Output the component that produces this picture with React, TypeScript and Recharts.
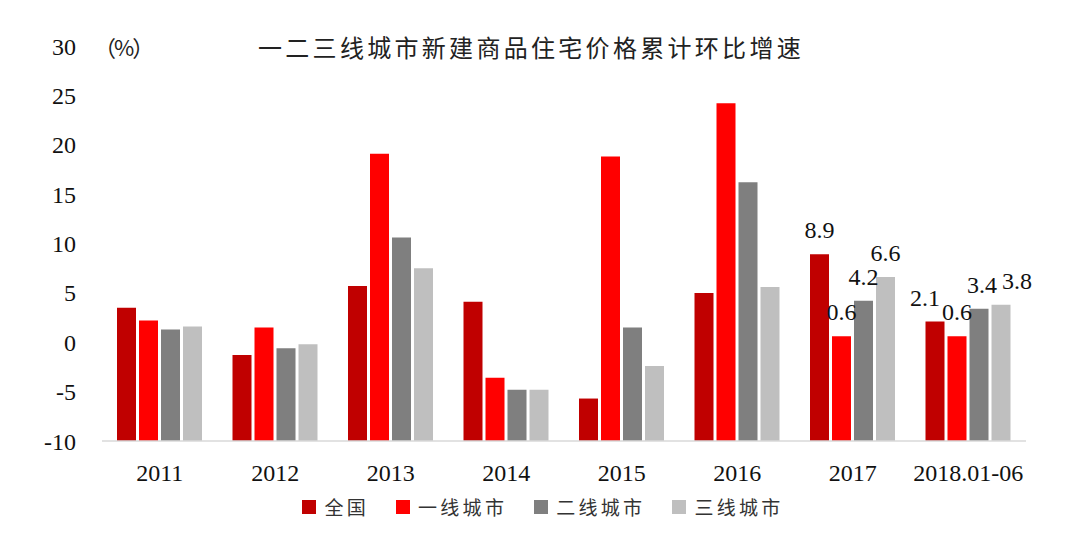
import React from 'react';
import { BarChart, Bar, XAxis, YAxis, Legend, LabelList } from 'recharts';

const categories = ['2011', '2012', '2013', '2014', '2015', '2016', '2017', '2018.01-06'];
const national = [3.5, -1.3, 5.7, 4.1, -5.7, 5.0, 8.9, 2.1];
const tier1 = [2.2, 1.5, 19.1, -3.6, 18.8, 24.2, 0.6, 0.6];
const tier2 = [1.3, -0.6, 10.6, -4.8, 1.5, 16.2, 4.2, 3.4];
const tier3 = [1.6, -0.2, 7.5, -4.8, -2.4, 5.6, 6.6, 3.8];
const yTicks = [-10, -5, 0, 5, 10, 15, 20, 25, 30];
const labeledCategories = ['2017', '2018.01-06'];
const seriesNames = ['全国', '一线城市', '二线城市', '三线城市'];
const seriesKeys = ['national', 'tier1', 'tier2', 'tier3'];
const seriesValues = [national, tier1, tier2, tier3];
const colors = ['#C00000', '#FF0000', '#7F7F7F', '#BFBFBF'];
const title = '一二三线城市新建商品住宅价格累计环比增速';
const unitLabel = '（%）';

const Y_MIN = -10;
const SERIF = '"Liberation Serif", "DejaVu Serif", serif';
const CJK = '"Noto Sans CJK SC", "Noto Sans", sans-serif';

const data = categories.map((c, i) => ({
  category: c,
  national: national[i],
  tier1: tier1[i],
  tier2: tier2[i],
  tier3: tier3[i],
}));

// horizontal nudges (style only) to keep neighbouring labels apart, as in the reference
const labelNudge = (series: number, category: string) => {
  if (category === '2018.01-06' && series === 0) return -10;
  if (category === '2018.01-06' && series === 3) return 16;
  if (category === '2018.01-06' && series === 2) return 3;
  return 0;
};

const makeLabel = (seriesIdx: number) => (props: any) => {
  const vb = props.viewBox || props;
  const { x, y, width } = vb;
  const index = props.index;
  if (index == null || !labeledCategories.includes(categories[index])) return null;
  const values = seriesValues[seriesIdx];
  return (
    <text
      x={x + width / 2 + labelNudge(seriesIdx, categories[index])}
      y={y - 16}
      textAnchor="middle"
      fontFamily={SERIF}
      fontSize={24}
      fill="#111"
    >
      {values[index].toFixed(1)}
    </text>
  );
};

const renderLegend = () => (
  <div
    style={{
      display: 'flex',
      justifyContent: 'center',
      alignItems: 'center',
      fontFamily: CJK,
      fontSize: 19,
      color: '#333',
      paddingLeft: 6,
    }}
  >
    {seriesNames.map((n, i) => (
      <div
        key={n}
        style={{ display: 'flex', alignItems: 'center', marginRight: i < seriesNames.length - 1 ? 27 : 0 }}
      >
        <span style={{ display: 'inline-block', width: 14, height: 14, background: colors[i], marginRight: 8 }} />
        <span style={{ letterSpacing: 3.3, lineHeight: '24px' }}>{n}</span>
      </div>
    ))}
  </div>
);

export default function App() {
  return (
    <div style={{ position: 'absolute', left: 0, top: 0, width: 1080, height: 535, background: '#fff' }}>
      <div
        style={{
          position: 'absolute',
          left: 258,
          top: 32,
          fontFamily: CJK,
          fontSize: 24,
          lineHeight: '30px',
          letterSpacing: 3.3,
          color: '#222',
          whiteSpace: 'nowrap',
        }}
      >
        {title}
      </div>
      <div
        style={{
          position: 'absolute',
          left: 94,
          top: 33,
          fontFamily: CJK,
          fontSize: 22,
          lineHeight: '26px',
          letterSpacing: -2,
          color: '#222',
          whiteSpace: 'nowrap',
        }}
      >
        {unitLabel}
      </div>
      <BarChart
        width={1080}
        height={535}
        data={data}
        margin={{ top: 46, right: 54, bottom: 0, left: 22 }}
        barCategoryGap={15}
        barGap={3}
      >
        <XAxis
          dataKey="category"
          height={94}
          axisLine={{ stroke: '#d9d9d9', strokeWidth: 1.5 }}
          tickLine={false}
          tickSize={0}
          tickMargin={23}
          interval={0}
          tick={{ fontFamily: SERIF, fontSize: 24, fill: '#111' }}
        />
        <YAxis
          width={80}
          domain={[Y_MIN, 30]}
          ticks={yTicks}
          allowDataOverflow
          axisLine={false}
          tickLine={false}
          tickSize={0}
          tickMargin={26}
          tick={{ fontFamily: SERIF, fontSize: 24, fill: '#111' }}
        />
        <Legend
          verticalAlign="middle"
          layout="horizontal"
          content={renderLegend}
          wrapperStyle={{ position: 'absolute', top: 495, left: 0, width: 1080 }}
        />
        {seriesKeys.map((k, i) => (
          <Bar
            key={k}
            name={seriesNames[i]}
            dataKey={(d: any) => [Y_MIN, d[k]]}
            fill={colors[i]}
            isAnimationActive={false}
          >
            <LabelList content={makeLabel(i)} />
          </Bar>
        ))}
      </BarChart>
    </div>
  );
}
